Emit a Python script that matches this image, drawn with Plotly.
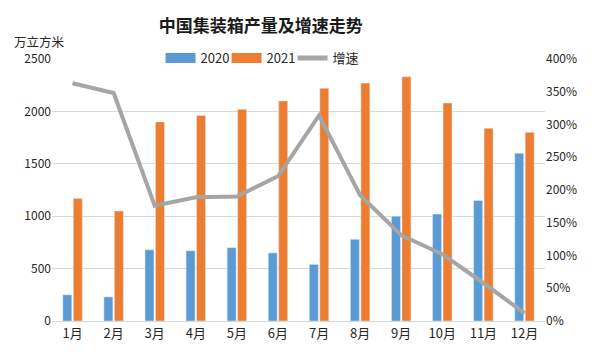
import plotly.graph_objects as go

months = ["1月", "2月", "3月", "4月", "5月", "6月", "7月", "8月", "9月", "10月", "11月", "12月"]
prod_2020 = [250, 230, 680, 670, 700, 650, 540, 780, 1000, 1020, 1150, 1600]
prod_2021 = [1170, 1050, 1900, 1960, 2020, 2100, 2220, 2270, 2330, 2080, 1840, 1800]
growth = [3.63, 3.48, 1.76, 1.89, 1.90, 2.21, 3.14, 1.92, 1.31, 1.02, 0.58, 0.12]

font_family = "Noto Sans CJK SC, Microsoft YaHei, sans-serif"
c2020, c2021, cgrowth = "#5B9BD5", "#ED7D31", "#A5A5A5"

fig = go.Figure()
fig.add_trace(go.Bar(x=months, y=prod_2020, name="2020", marker_color=c2020, showlegend=False))
fig.add_trace(go.Bar(x=months, y=prod_2021, name="2021", marker_color=c2021, showlegend=False))
fig.add_trace(go.Scatter(x=months, y=growth, name="增速", mode="lines",
                         line=dict(color=cgrowth, width=4), yaxis="y2", showlegend=False))
# legend proxies (wide rectangles like the reference legend)
for nm, col, w in [("2020", c2020, 10), ("2021", c2021, 10), ("增速", cgrowth, 5)]:
    fig.add_trace(go.Scatter(x=[None], y=[None], mode="lines", name=nm,
                             line=dict(color=col, width=w)))

fig.update_layout(
    width=592, height=352,
    margin=dict(l=44, r=55, t=51, b=39, autoexpand=False),
    paper_bgcolor="white", plot_bgcolor="white",
    font=dict(family=font_family, size=12, color="#262626"),
    title=dict(text="<b>中国集装箱产量及增速走势</b>", x=0.427, xanchor="center",
               xref="container", yref="container", y=0.95, yanchor="middle",
               font=dict(size=17, color="#1a1a1a")),
    barmode="group", bargap=0.49, bargroupgap=0.14,
    legend=dict(orientation="h", x=0.421, xanchor="center", y=1.004, yanchor="middle",
                bgcolor="rgba(0,0,0,0)", font=dict(size=13), itemwidth=30,
                entrywidth=21, entrywidthmode="pixels", traceorder="normal"),
    xaxis=dict(showgrid=False, showline=True, linecolor="#D9D9D9", linewidth=1,
               ticks="", tickfont=dict(size=13), automargin=False),
    yaxis=dict(range=[0, 2500], dtick=500, showgrid=True, gridcolor="#D9D9D9",
               zeroline=False, ticks="", tickfont=dict(size=12), automargin=False),
    yaxis2=dict(range=[0, 4], dtick=0.5, overlaying="y", side="right",
                tickformat=".0%", showgrid=False, zeroline=False, ticks="",
                tickfont=dict(size=12), automargin=False),
    annotations=[dict(text="万立方米", xref="paper", yref="paper", x=-0.081, y=1.068,
                      xanchor="left", yanchor="middle", showarrow=False,
                      font=dict(size=12.5, color="#262626"))],
)

fig.write_html("out.html")
